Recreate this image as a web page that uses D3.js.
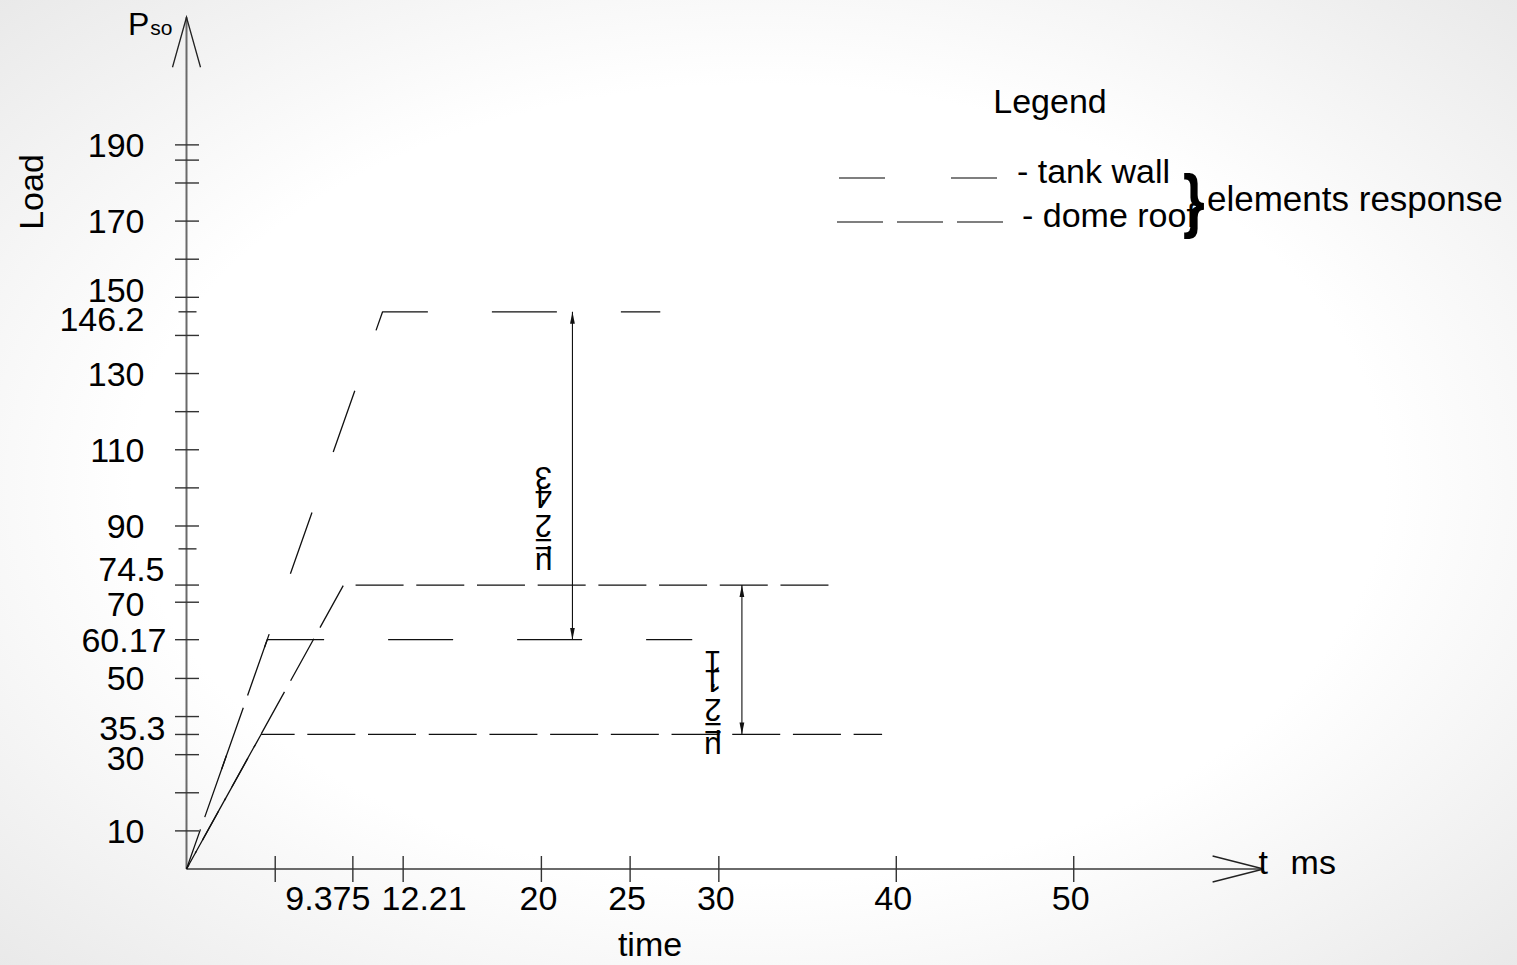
<!DOCTYPE html>
<html>
<head>
<meta charset="utf-8">
<script src="https://cdn.jsdelivr.net/npm/d3@7"></script>
<style>
  body { margin: 0; background: #fff; }
  svg { display: block; font-family: "Liberation Sans", Arial, sans-serif; }
</style>
</head>
<body>
<div id="chart"></div>
<script>
// values: time t in ms, load Pso
var xTickValues = [5, 9.375, 12.21, 20, 25, 30, 40, 50];
var xTickLabels = ["", "9.375", "12.21", "20", "25", "30", "40", "50"];
var yTickValues = [10, 30, 35.3, 50, 60.17, 70, 74.5, 90, 110, 130, 146.2, 150, 170, 190];
var yTickLabels = ["10", "30", "35.3", "50", "60.17", "70", "74.5", "90", "110", "130", "146.2", "150", "170", "190"];
var yMinorTicks = [20, 40, 84, 100, 120, 140, 160, 180, 186];

var seriesNames = ["tank wall", "tank wall", "dome roof", "dome roof"];
var seriesTimes = [[0, 11.05, 26.7], [0, 4.55, 28.5], [0, 8.85, 36.4], [0, 4.2, 39.2]];
var seriesLoads = [[0, 146.2, 146.2], [0, 60.17, 60.17], [0, 74.5, 74.5], [0, 35.3, 35.3]];

var ratioTimes = [21.75, 31.3];
var ratioLow = [60.17, 35.3];
var ratioHigh = [146.2, 74.5];
var ratioLabels = ["μ=2.43", "μ=2.11"];

var legendNames = ["tank wall", "dome roof"];

(function() {

    var
        width = 1517,
        height = 965,
        fontSize = 34,
        dashes = {"tank wall": "65 64", "dome roof": "48 12.7"},
        dashOffsets = [-55, -106, -33, -18],
        legendDashes = {"tank wall": "46 66", "dome roof": "46 14"},
        xLabelShift = {"9.375": -22, "12.21": 24},
        yLabelShift = {"150": -7, "146.2": 7, "74.5": -16, "70": 2, "35.3": -6, "30": 3},
        yLabelInset = {"35.3": 21, "60.17": 22, "74.5": 20};

    var svg = d3.select('#chart').append('svg')
        .attr('width', width)
        .attr('height', height);

    // paper-like shading round the edges
    var grad = svg.append('defs').append('radialGradient')
        .attr('id', 'paper')
        .attr('cx', '50%').attr('cy', '50%').attr('r', '75%');
    grad.append('stop').attr('offset', '55%').attr('stop-color', '#ffffff');
    grad.append('stop').attr('offset', '100%').attr('stop-color', '#e6e6e6');
    svg.append('rect').attr('width', width).attr('height', height).attr('fill', 'url(#paper)');

    var x = d3.scaleLinear().domain([0, 60.7]).range([186.5, 1263.6]);
    var y = d3.scaleLinear().domain([0, 223.5]).range([869, 17.2]);

    var axisColor = '#6a6a6a';

    // axes with open arrow heads
    var x0 = x(0), y0 = y(0), xEnd = x.range()[1], yEnd = y.range()[1];
    svg.append('line')
        .attr('x1', x0).attr('y1', y0).attr('x2', xEnd).attr('y2', y0)
        .attr('stroke', axisColor).attr('stroke-width', 2);
    svg.append('line')
        .attr('x1', x0).attr('y1', y0).attr('x2', x0).attr('y2', yEnd)
        .attr('stroke', axisColor).attr('stroke-width', 2);
    svg.append('path')
        .attr('d', 'M' + (xEnd - 51) + ',' + (y0 - 13) + 'L' + xEnd + ',' + y0 + 'L' + (xEnd - 51) + ',' + (y0 + 13))
        .attr('fill', 'none').attr('stroke', '#222').attr('stroke-width', 1.3);
    svg.append('path')
        .attr('d', 'M' + (x0 - 14) + ',' + (yEnd + 50) + 'L' + x0 + ',' + yEnd + 'L' + (x0 + 14) + ',' + (yEnd + 50))
        .attr('fill', 'none').attr('stroke', '#222').attr('stroke-width', 1.3);

    // x ticks
    svg.selectAll('.xtick')
        .data(xTickValues)
        .enter()
        .append('line')
        .attr('class', 'xtick')
        .attr('x1', function(d) { return x(d); })
        .attr('x2', function(d) { return x(d); })
        .attr('y1', y0 - 13)
        .attr('y2', y0 + 13)
        .attr('stroke', '#333')
        .attr('stroke-width', 1.4);

    svg.selectAll('.xlabel')
        .data(xTickValues)
        .enter()
        .append('text')
        .attr('class', 'xlabel')
        .attr('x', function(d, i) { return x(d) - 3 + (xLabelShift[xTickLabels[i]] || 0); })
        .attr('y', y0 + 41)
        .attr('text-anchor', 'middle')
        .attr('font-size', fontSize)
        .text(function(d, i) { return xTickLabels[i]; });

    // y ticks
    svg.selectAll('.ytick')
        .data(yTickValues.concat(yMinorTicks))
        .enter()
        .append('line')
        .attr('class', 'ytick')
        .attr('x1', function(d) { return (d === 146.2 || d === 84) ? x0 - 8 : x0 - 11.5; })
        .attr('x2', function(d) { return (d === 146.2 || d === 84) ? x0 + 10 : x0 + 12.5; })
        .attr('y1', function(d) { return y(d); })
        .attr('y2', function(d) { return y(d); })
        .attr('stroke', '#333')
        .attr('stroke-width', 1.4);

    svg.selectAll('.ylabel')
        .data(yTickValues)
        .enter()
        .append('text')
        .attr('class', 'ylabel')
        .attr('x', function(d, i) { return x0 - 42 + (yLabelInset[yTickLabels[i]] || 0); })
        .attr('y', function(d, i) { return y(d) + 12 + (yLabelShift[yTickLabels[i]] || 0); })
        .attr('text-anchor', 'end')
        .attr('font-size', fontSize)
        .text(function(d, i) { return yTickLabels[i]; });

    // axis titles
    svg.append('text')
        .attr('transform', 'translate(43,192) rotate(-90)')
        .attr('text-anchor', 'middle')
        .attr('font-size', fontSize)
        .text('Load');
    var pso = svg.append('text')
        .attr('x', 128).attr('y', 35)
        .attr('font-size', 32);
    pso.append('tspan').text('P');
    pso.append('tspan').attr('font-size', 21).attr('dx', 1).text('so');
    svg.append('text')
        .attr('x', 650).attr('y', 956)
        .attr('text-anchor', 'middle')
        .attr('font-size', fontSize)
        .text('time');
    svg.append('text')
        .attr('x', xEnd - 5).attr('y', y0 + 5)
        .attr('font-size', fontSize)
        .text('t');
    svg.append('text')
        .attr('x', xEnd + 27).attr('y', y0 + 5)
        .attr('font-size', fontSize)
        .text('ms');

    // response curves
    var line = d3.line()
        .x(function(d) { return x(d[0]); })
        .y(function(d) { return y(d[1]); });

    svg.selectAll('.curve')
        .data(seriesTimes.map(function(ts, i) {
            return ts.map(function(t, j) { return [t, seriesLoads[i][j]]; });
        }))
        .enter()
        .append('path')
        .attr('class', 'curve')
        .attr('d', line)
        .attr('fill', 'none')
        .attr('stroke', '#111')
        .attr('stroke-width', 1.3)
        .attr('stroke-linejoin', 'round')
        .attr('stroke-dasharray', function(d, i) { return dashes[seriesNames[i]]; })
        .attr('stroke-dashoffset', function(d, i) { return dashOffsets[i]; });

    // ratio dimension arrows
    var marker = svg.select('defs').append('marker')
        .attr('id', 'tip')
        .attr('viewBox', '0 0 12 6')
        .attr('refX', 12).attr('refY', 3)
        .attr('markerWidth', 12).attr('markerHeight', 6)
        .attr('markerUnits', 'userSpaceOnUse')
        .attr('orient', 'auto-start-reverse');
    marker.append('path').attr('d', 'M0,0.6L12,3L0,5.4Z').attr('fill', '#111');

    svg.selectAll('.ratio')
        .data(ratioTimes)
        .enter()
        .append('line')
        .attr('class', 'ratio')
        .attr('x1', function(d) { return x(d); })
        .attr('x2', function(d) { return x(d); })
        .attr('y1', function(d, i) { return y(ratioLow[i]); })
        .attr('y2', function(d, i) { return y(ratioHigh[i]); })
        .attr('stroke', '#111')
        .attr('stroke-width', 1.1)
        .attr('marker-start', 'url(#tip)')
        .attr('marker-end', 'url(#tip)');

    // labels written as a column of glyphs turned upside down, like the drawing
    var ratioFont = 31;
    var measure = svg.append('text').attr('font-size', ratioFont).attr('visibility', 'hidden');
    ratioLabels.forEach(function(label, i) {
        var cx = x(ratioTimes[i]) - 29,
            mid = (y(ratioLow[i]) + y(ratioHigh[i])) / 2 + 45,
            chars = label.split(''),
            adv = chars.map(function(c) {
                measure.text(c);
                return measure.node().getComputedTextLength() + 1.5;
            }),
            total = d3.sum(adv),
            pos = mid + total / 2;
        var g = svg.append('g');
        chars.forEach(function(c, j) {
            var cy = pos - adv[j] / 2;
            g.append('text')
                .attr('transform', 'translate(' + cx + ',' + cy + ') rotate(180)')
                .attr('text-anchor', 'middle')
                .attr('dominant-baseline', 'central')
                .attr('font-size', ratioFont)
                .text(c);
            pos -= adv[j];
        });
    });
    measure.remove();

    // legend
    svg.append('text')
        .attr('x', 1050).attr('y', 113)
        .attr('text-anchor', 'middle')
        .attr('font-size', fontSize)
        .text('Legend');

    var legend = svg.selectAll('.legend')
        .data(legendNames)
        .enter()
        .append('g')
        .attr('class', 'legend')
        .attr('transform', function(d, i) { return 'translate(0,' + (i * 44) + ')'; });
    legend.append('line')
        .attr('x1', function(d, i) { return i ? 837 : 839; })
        .attr('x2', 1003)
        .attr('y1', 178).attr('y2', 178)
        .attr('stroke', '#555')
        .attr('stroke-width', 1.4)
        .attr('stroke-dasharray', function(d) { return legendDashes[d]; });
    legend.append('text')
        .attr('x', function(d, i) { return i ? 1022 : 1017; })
        .attr('y', 183)
        .attr('font-size', fontSize)
        .text(function(d) { return '- ' + d; });

    svg.append('text')
        .attr('transform', 'translate(1183,224) scale(1,1.25)')
        .attr('font-size', 56)
        .attr('font-weight', 'bold')
        .text('}');
    svg.append('text')
        .attr('x', 1207).attr('y', 211)
        .attr('font-size', 35)
        .text('elements response');

})();
</script>
</body>
</html>
